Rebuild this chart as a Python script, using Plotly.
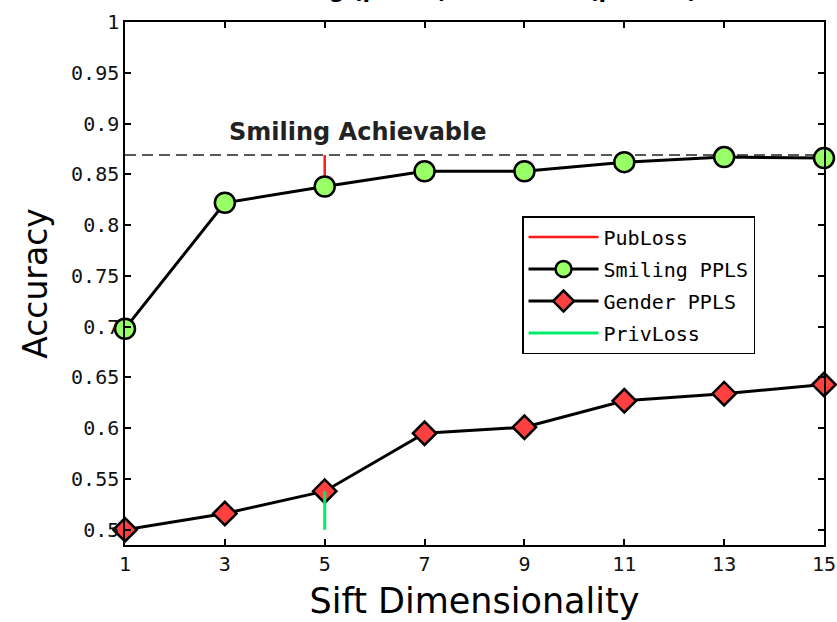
import plotly.graph_objects as go

# ---- data ----
dims = [1, 3, 5, 7, 9, 11, 13, 15]
smiling_ppls = [0.698, 0.822, 0.838, 0.853, 0.853, 0.862, 0.867, 0.866]
gender_ppls = [0.500, 0.516, 0.538, 0.595, 0.601, 0.627, 0.634, 0.643]
smiling_achievable = 0.869
loss_dim = 5
publoss_y = [0.838, 0.869]
privloss_y = [0.500, 0.538]
y_ticks = [0.5, 0.55, 0.6, 0.65, 0.7, 0.75, 0.8, 0.85, 0.9, 0.95, 1.0]
y_ticklabels = ["0.5", "0.55", "0.6", "0.65", "0.7", "0.75", "0.8", "0.85", "0.9", "0.95", "1"]
x_ticks = [1, 3, 5, 7, 9, 11, 13, 15]

mono = "DejaVu Sans Mono"
sans = "DejaVu Sans"

fig = go.Figure()

# Achievable dashed line (not in legend)
fig.add_trace(go.Scatter(
    x=[dims[0], dims[-1]], y=[smiling_achievable, smiling_achievable],
    mode="lines", line=dict(color="#222222", width=1.5, dash="11px,6px"),
    showlegend=False, hoverinfo="skip"))

fig.add_trace(go.Scatter(
    x=[loss_dim, loss_dim], y=publoss_y, mode="lines",
    line=dict(color="#ff1a1a", width=2.5), name="PubLoss",
    legendgroup="a"))

fig.add_trace(go.Scatter(
    x=dims, y=smiling_ppls, mode="lines+markers", name="Smiling PPLS",
    line=dict(color="black", width=3),
    marker=dict(symbol="circle", size=20, color="#99ff66",
                line=dict(color="black", width=2.5)),
    legendgroup="b"))

fig.add_trace(go.Scatter(
    x=dims, y=gender_ppls, mode="lines+markers", name="Gender PPLS",
    line=dict(color="black", width=3),
    marker=dict(symbol="diamond", size=18, color="#ff4040",
                line=dict(color="black", width=2.5)),
    legendgroup="c"))

fig.add_trace(go.Scatter(
    x=[loss_dim, loss_dim], y=privloss_y, mode="lines",
    line=dict(color="#00ee66", width=3), name="PrivLoss",
    legendgroup="d"))

fig.update_traces(cliponaxis=False)

axis_common = dict(
    showline=True, linecolor="black", linewidth=1.5, mirror="ticks",
    ticks="inside", ticklen=6, tickwidth=1.5, tickcolor="black",
    showgrid=False, zeroline=False, automargin=False,
    tickfont=dict(family=mono, size=20, color="#111111"),
)

fig.update_xaxes(range=[1, 15], tickvals=x_ticks, ticktext=[str(v) for v in x_ticks],
                 title=dict(text="Sift Dimensionality",
                            font=dict(family=sans, size=35, color="black"),
                            standoff=14),
                 **axis_common)
fig.update_yaxes(range=[0.485, 1.0], tickvals=y_ticks, ticktext=y_ticklabels,
                 title=dict(text="Accuracy",
                            font=dict(family=sans, size=33, color="black"),
                            standoff=14),
                 **axis_common)

fig.add_annotation(x=5.67, y=0.8915, xref="x", yref="y",
                   text="<b>Smiling Achievable</b>", showarrow=False,
                   font=dict(family=sans, size=24, color="#222222"))

fig.add_annotation(x=0.5, y=1, xref="paper", yref="paper", yanchor="bottom",
                   yshift=17, text="<b>Smiling (public) vs Gender (private)</b>",
                   showarrow=False,
                   font=dict(family=sans, size=22, color="black"))

fig.update_layout(
    width=837, height=622,
    margin=dict(l=125, r=13, t=22, b=77),
    paper_bgcolor="white", plot_bgcolor="white",
    legend=dict(x=0.568, y=0.629, xanchor="left", yanchor="top",
                bgcolor="white", bordercolor="black", borderwidth=1.5,
                font=dict(family=mono, size=20, color="black"),
                traceorder="grouped", tracegroupgap=3, itemwidth=70),
)

fig.write_html("out.html")
